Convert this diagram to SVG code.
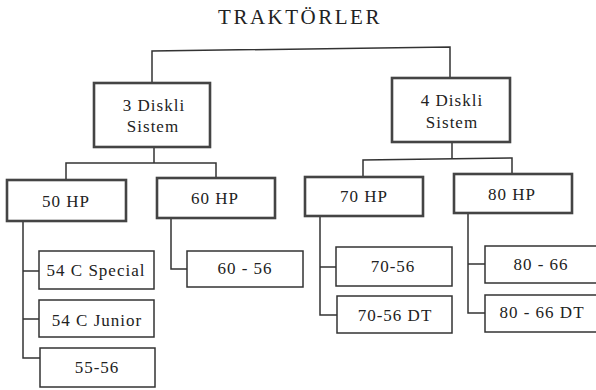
<svg xmlns="http://www.w3.org/2000/svg" width="596" height="390" viewBox="0 0 596 390">
<style>
text{font-family:"Liberation Serif","Times New Roman",serif;fill:#222;text-anchor:middle;font-size:17px;letter-spacing:1px}
.title{font-size:21px;letter-spacing:2.5px}
.main{fill:#fff;stroke:#444;stroke-width:2.6}
.leaf{fill:#fff;stroke:#333;stroke-width:1.5}
.con{fill:none;stroke:#333;stroke-width:1.5}
</style>
<rect width="596" height="390" fill="#fff"/>
<text class="title" x="300" y="24">TRAKTÖRLER</text>
<g id="connectors">
<path class="con" d="M152,82 V51 L450,47 V78"/>
<path class="con" d="M154,147 V163 M66,180 V163 H216 V178"/>
<path class="con" d="M452,142 V159 M363,177 V160 L512,158 V174"/>
<path class="con" d="M23,221 V358 H40 M23,271 H39 M23,319 H39"/>
<path class="con" d="M171,218 V269 H187"/>
<path class="con" d="M320,216 V315 H337 M320,267 H336"/>
<path class="con" d="M468,213 V313 H485 M468,264 H485"/>
</g>
<g id="n3disk"><rect class="main" x="94" y="83" width="116" height="64"/><text x="154" y="111">3 Diskli</text><text x="153" y="132">Sistem</text></g>
<g id="n4disk"><rect class="main" x="392" y="78" width="118" height="64"/><text x="452" y="106">4 Diskli</text><text x="452" y="128">Sistem</text></g>
<g id="n50"><rect class="main" x="7" y="180" width="119" height="41"/><text x="66" y="207">50 HP</text></g>
<g id="n60"><rect class="main" x="157" y="178" width="118" height="40"/><text x="215" y="204">60 HP</text></g>
<g id="n70"><rect class="main" x="305" y="177" width="118" height="39"/><text x="364" y="202">70 HP</text></g>
<g id="n80"><rect class="main" x="454" y="174" width="118" height="39"/><text x="512" y="200">80 HP</text></g>
<g id="n54cs"><rect class="leaf" x="39" y="251" width="115" height="38"/><text x="96" y="276">54 C Special</text></g>
<g id="n54cj"><rect class="leaf" x="39" y="300" width="115" height="37"/><text x="97" y="326">54 C Junior</text></g>
<g id="n5556"><rect class="leaf" x="40" y="348" width="115" height="39"/><text x="97" y="373">55-56</text></g>
<g id="n6056"><rect class="leaf" x="187" y="251" width="116" height="36"/><text x="245" y="274">60 - 56</text></g>
<g id="n7056"><rect class="leaf" x="336" y="247" width="116" height="39"/><text x="393" y="272">70-56</text></g>
<g id="n7056dt"><rect class="leaf" x="337" y="296" width="115" height="37"/><text x="395" y="321">70-56 DT</text></g>
<g id="n8066"><rect class="leaf" x="485" y="246" width="116" height="37"/><text x="541" y="270">80 - 66</text></g>
<g id="n8066dt"><rect class="leaf" x="485" y="295" width="116" height="37"/><text x="542" y="318">80 - 66 DT</text></g>
</svg>
